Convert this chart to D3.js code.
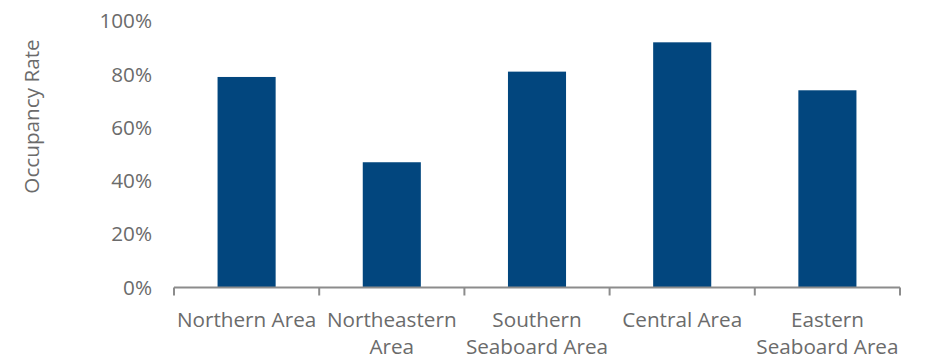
<!DOCTYPE html>
<html><head><meta charset="utf-8">
<script src="https://cdn.jsdelivr.net/npm/d3@7"></script>
<style>
html,body{margin:0;padding:0;background:#fff;}
svg text{font-family:"Open Sans",sans-serif;fill:#6b6b6b;}
</style></head>
<body><svg id="chart" width="931" height="360"></svg>
<script>
const categories = [["Northern Area"], ["Northeastern", "Area"], ["Southern", "Seaboard Area"], ["Central Area"], ["Eastern", "Seaboard Area"]];
const values = [79, 47, 81, 92, 74];
const yTicks = [0, 20, 40, 60, 80, 100];
const yTitle = "Occupancy Rate";

const svg = d3.select("#chart");
const pLeft = 174, pRight = 900, pTop = 21, pBottom = 287.5;
const fs = "20.7px";
const keys = categories.map(c => c.join(" "));
const x = d3.scaleBand().domain(keys).range([pLeft, pRight]).paddingInner(0.6).paddingOuter(0.3);
const xb = d3.scaleBand().domain(keys).range([pLeft, pRight]).padding(0);
const y = d3.scaleLinear().domain([0, 100]).range([pBottom, pTop]);

svg.selectAll("rect.bar").data(values).enter().append("rect")
  .attr("class", "bar")
  .attr("x", (d, i) => x(keys[i]))
  .attr("width", x.bandwidth())
  .attr("y", d => y(d))
  .attr("height", d => y(0) - y(d))
  .attr("fill", "#02467e");

svg.selectAll("text.yt").data(yTicks).enter().append("text")
  .attr("class", "yt")
  .attr("x", 152).attr("y", d => y(d))
  .attr("dy", "0.35em")
  .attr("text-anchor", "end")
  .style("font-size", fs)
  .text(d => d + "%");

const g = svg.append("g");
g.append("line").attr("x1", pLeft).attr("x2", pRight).attr("y1", pBottom).attr("y2", pBottom)
  .attr("stroke", "#8c8c8c").attr("stroke-width", 2);
const bounds = keys.map(k => xb(k)).concat([pRight]);
g.selectAll("line.tk").data(bounds).enter().append("line")
  .attr("x1", d => d).attr("x2", d => d).attr("y1", pBottom).attr("y2", pBottom + 8)
  .attr("stroke", "#8c8c8c").attr("stroke-width", 2);

categories.forEach((lines, i) => {
  const cx = xb(keys[i]) + xb.bandwidth() / 2;
  const t = svg.append("text")
    .attr("x", cx)
    .attr("y", 326.5)
    .attr("text-anchor", "middle")
    .style("font-size", fs);
  lines.forEach((l, j) => {
    t.append("tspan").attr("x", cx)
      .attr("dy", j === 0 ? "0" : "27.8px").text(l);
  });
});

svg.append("text")
  .attr("transform", "translate(39,116.5) rotate(-90)")
  .attr("text-anchor", "middle")
  .style("font-size", fs)
  .text(yTitle);
</script></body></html>
